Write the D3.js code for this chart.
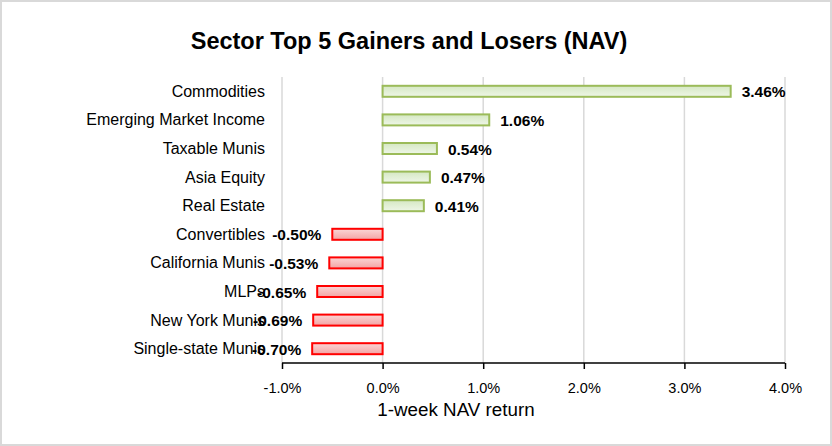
<!DOCTYPE html>
<html><head><meta charset="utf-8">
<script src="https://cdn.jsdelivr.net/npm/d3@7"></script>
<style>body{margin:0;background:#fff}svg{display:block}</style>
</head><body>
<script>
const categories = ["Commodities","Emerging Market Income","Taxable Munis","Asia Equity","Real Estate","Convertibles","California Munis","MLPs","New York Munis","Single-state Munis"];
const values = [3.46,1.06,0.54,0.47,0.41,-0.50,-0.53,-0.65,-0.69,-0.70];
const tickValues = [-1,0,1,2,3,4];
const title = "Sector Top 5 Gainers and Losers (NAV)";
const xTitle = "1-week NAV return";

const W=832,H=446;
const svg=d3.select("body").append("svg").attr("width",W).attr("height",H);
svg.append("rect").attr("x",1).attr("y",1).attr("width",W-2).attr("height",H-2).attr("fill","#fff").attr("stroke","#d9d9d9").attr("stroke-width",2);

const defs=svg.append("defs");
const gg=defs.append("linearGradient").attr("id","gG").attr("x1",0).attr("y1",0).attr("x2",0).attr("y2",1);
gg.append("stop").attr("offset","0%").attr("stop-color","#d5e8c3");
gg.append("stop").attr("offset","100%").attr("stop-color","#eef6e7");
const gr=defs.append("linearGradient").attr("id","gR").attr("x1",0).attr("y1",0).attr("x2",0).attr("y2",1);
gr.append("stop").attr("offset","0%").attr("stop-color","#fbd6d6");
gr.append("stop").attr("offset","100%").attr("stop-color","#f3a3a3");

const x=d3.scaleLinear().domain([-1,4]).range([282,785]);
const y=d3.scaleBand().domain(categories).range([77,363]).paddingInner(0.62).paddingOuter(0.31);
const FF="Liberation Sans, Arial, sans-serif";

svg.append("text").attr("x",409).attr("y",49).attr("text-anchor","middle")
  .attr("font-family",FF).attr("font-weight","bold").attr("font-size",23.5).text(title);

// gridlines
svg.append("g").selectAll("line").data(tickValues).join("line")
  .attr("x1",d=>x(d)).attr("x2",d=>x(d)).attr("y1",77).attr("y2",363)
  .attr("stroke","#d9d9d9").attr("stroke-width",1.5);

// bars
const bh=11;
svg.append("g").selectAll("rect").data(values).join("rect")
  .attr("x",d=>x(Math.min(0,d))).attr("width",d=>Math.abs(x(d)-x(0)))
  .attr("y",(d,i)=>y(categories[i])+y.bandwidth()/2-bh/2).attr("height",bh)
  .attr("fill",d=>d>=0?"url(#gG)":"url(#gR)")
  .attr("stroke",d=>d>=0?"#9bbb59":"#ff0000").attr("stroke-width",2);

// category labels
svg.append("g").selectAll("text").data(categories).join("text")
  .attr("x",265).attr("y",d=>y(d)+y.bandwidth()/2+5.5)
  .attr("text-anchor","end")
  .attr("font-family",FF).attr("font-size",16).attr("fill","#000")
  .text(d=>d);

// data labels
svg.append("g").selectAll("text").data(values).join("text")
  .attr("x",d=>d>=0?x(d)+11:x(d)-11)
  .attr("y",(d,i)=>y(categories[i])+y.bandwidth()/2+6)
  .attr("text-anchor",d=>d>=0?"start":"end")
  .attr("font-family",FF).attr("font-weight","bold").attr("font-size",15.5)
  .text(d=>d.toFixed(2)+"%");

// x axis
const ax=svg.append("g").attr("transform","translate(0,363)")
  .call(d3.axisBottom(x).tickValues(tickValues).tickSize(6).tickPadding(14).tickFormat(d=>d.toFixed(1)+"%"));
ax.select(".domain").attr("stroke","#000").attr("stroke-width",1.5).attr("d","M282,0H785");
ax.selectAll(".tick line").attr("stroke","#000").attr("stroke-width",1.5);
ax.selectAll(".tick text").attr("font-family",FF).attr("font-size",14.5).attr("fill","#000");

svg.append("text").attr("x",456).attr("y",416).attr("text-anchor","middle")
  .attr("font-family",FF).attr("font-size",18.8).text(xTitle);
</script>
</body></html>
